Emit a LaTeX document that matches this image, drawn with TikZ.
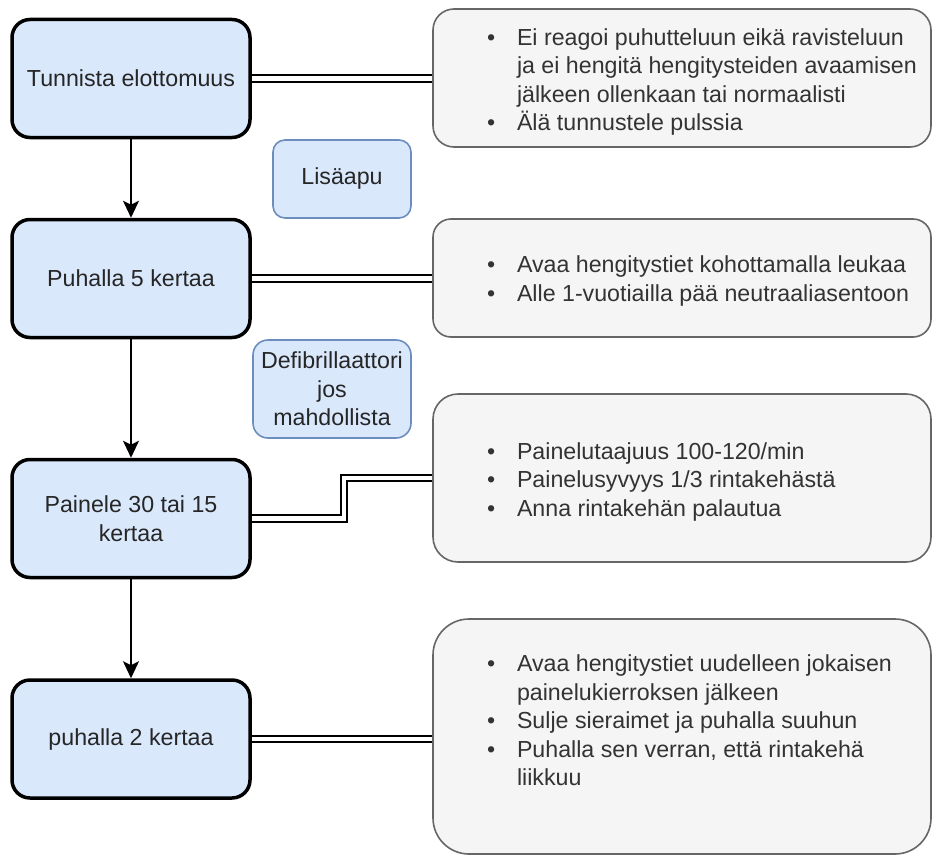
\documentclass[tikz,border=0pt]{standalone}
\usepackage{fontspec}
\setmainfont{Liberation Sans}
\usetikzlibrary{arrows.meta,backgrounds}
\definecolor{bluefill}{HTML}{DAE8FC}
\definecolor{bluestroke}{HTML}{6C8EBF}
\definecolor{greyfill}{HTML}{F5F5F5}
\definecolor{greystroke}{HTML}{666666}
\definecolor{greytext}{HTML}{333333}
\newcommand\myb[1]{\makebox[498pt][l]{\hspace*{54pt}\makebox[30pt][l]{•}#1}}
\newcommand\myi[1]{\makebox[498pt][l]{\hspace*{84pt}#1}}
\begin{document}
\begin{tikzpicture}[x=1pt,y=-1pt,
  every node/.style={font=\fontsize{23.2}{28.5}\selectfont},
  mainbox/.style={draw=black, line width=3.5pt, fill=bluefill, rounded corners=18pt,
    minimum width=238pt, minimum height=118pt, align=center, inner sep=0pt, text=black!85},
  helpbox/.style={draw=bluestroke, line width=1.6pt, fill=bluefill, align=center, inner sep=0pt, text=black!85},
  notebox/.style={draw=greystroke, line width=1.6pt, fill=greyfill, minimum width=498pt, inner sep=0pt},
  notetext/.style={text=greytext, align=left, inner sep=0pt},
  link/.style={draw=black, line width=1.8pt, double=white, double distance=4.5pt},
  arr/.style={draw=black, line width=1.8pt, -{Stealth[length=17pt,width=16pt,inset=4pt]}}
]
\useasboundingbox (0,0) rectangle (933,856);

% main steps
\node[mainbox] (n1) at (131,78.5) {Tunnista elottomuus};
\node[mainbox] (n2) at (131,278.5) {Puhalla 5 kertaa};
\node[mainbox] (n3) at (131,518.5) {Painele 30 tai 15\\kertaa};
\node[mainbox] (n4) at (131,739) {puhalla 2 kertaa};

% side helpers
\node[helpbox, rounded corners=12pt, minimum width=138pt, minimum height=78pt] (h1) at (342,179) {Lisäapu};
\node[helpbox, rounded corners=15pt, minimum width=158pt, minimum height=98pt] (h2) at (332,389) {Defibrillaattori\\jos\\mahdollista};

% notes
\node[notebox, rounded corners=21pt, minimum height=138pt] (a) at (682,78) {};
\node[notetext] (at) at ([yshift=-4pt]a.center) {%
\myb{Ei reagoi puhutteluun eikä ravisteluun}\\
\myi{ja ei hengitä hengitysteiden avaamisen}\\
\myi{jälkeen ollenkaan tai normaalisti}\\
\myb{Älä tunnustele pulssia}};
\node[notebox, rounded corners=18pt, minimum height=118pt] (b) at (682,278) {};
\node[notetext] (bt) at ([yshift=-3pt]b.center) {%
\myb{Avaa hengitystiet kohottamalla leukaa}\\
\myb{Alle 1-vuotiailla pää neutraaliasentoon}};
\node[notebox, rounded corners=25pt, minimum height=168pt] (c) at (682,478) {};
\node[notetext] (ct) at ([yshift=-3.5pt]c.center) {%
\myb{Painelutaajuus 100-120/min}\\
\myb{Painelusyvyys 1/3 rintakehästä}\\
\myb{Anna rintakehän palautua}};
\node[notebox, rounded corners=36pt, minimum height=235pt] (d) at (682,736.5) {};
\node[notetext] (dt) at ([yshift=16pt]d.center) {%
\myb{Avaa hengitystiet uudelleen jokaisen}\\
\myi{painelukierroksen jälkeen}\\
\myb{Sulje sieraimet ja puhalla suuhun}\\
\myb{Puhalla sen verran, että rintakehä}\\
\myi{liikkuu}};

\begin{scope}[on background layer]
\draw[link] (n1.east) -- (n1.east -| a.west);
\draw[link] (n2.east) -- (n2.east -| b.west);
\draw[link] (n3.east) -- ++(92,0) |- (c.west);
\draw[link] (n4.east) -- (n4.east -| d.west);
\end{scope}

\draw[arr] (n1) -- (n2);
\draw[arr] (n2) -- (n3);
\draw[arr] (n3) -- (n4);
\end{tikzpicture}
\end{document}
